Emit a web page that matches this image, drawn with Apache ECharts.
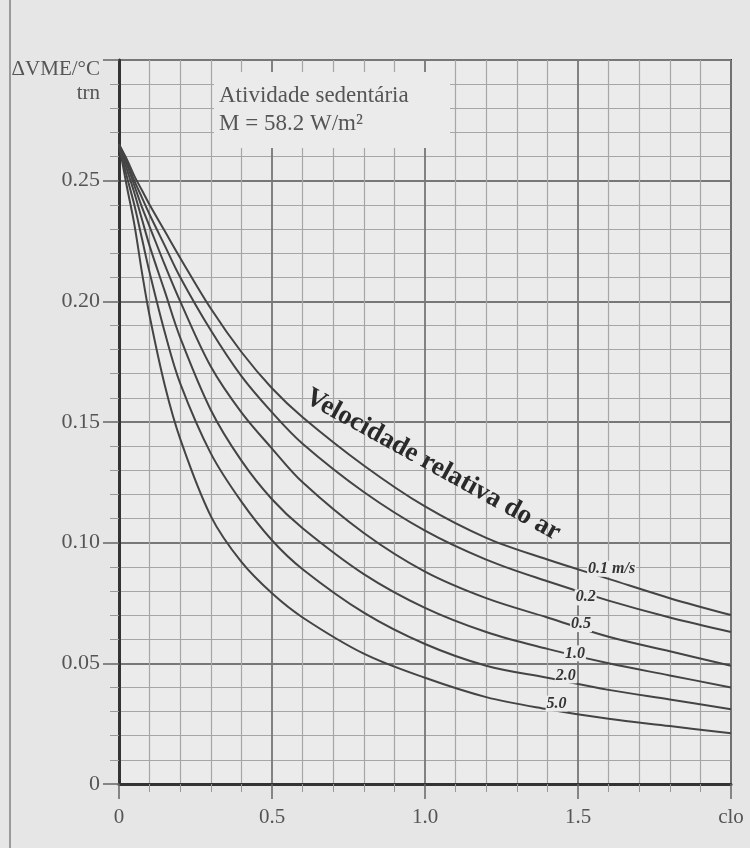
<!DOCTYPE html>
<html>
<head>
<meta charset="utf-8">
<script src="https://cdn.jsdelivr.net/npm/echarts@6/dist/echarts.min.js"></script>
<style>
html,body{margin:0;padding:0;background:#e6e6e6;}
#chart{width:750px;height:848px;}
</style>
</head>
<body>
<div id="chart"></div>
<script>
// ---- data ----
const xValues = [0, 0.025, 0.05, 0.075, 0.1, 0.15, 0.2, 0.3, 0.4, 0.5, 0.6, 0.8, 1.0, 1.2, 1.4, 1.6, 1.8, 2.0];
const v01 = [0.265, 0.259, 0.252, 0.246, 0.240, 0.229, 0.218, 0.197, 0.179, 0.164, 0.152, 0.132, 0.115, 0.102, 0.093, 0.085, 0.077, 0.070];
const v02 = [0.265, 0.258, 0.250, 0.243, 0.236, 0.223, 0.210, 0.188, 0.169, 0.154, 0.141, 0.121, 0.105, 0.093, 0.084, 0.076, 0.069, 0.063];
const v05 = [0.265, 0.257, 0.248, 0.239, 0.231, 0.215, 0.200, 0.173, 0.154, 0.139, 0.125, 0.104, 0.088, 0.077, 0.069, 0.061, 0.055, 0.049];
const v10 = [0.265, 0.255, 0.245, 0.234, 0.223, 0.204, 0.185, 0.155, 0.134, 0.118, 0.106, 0.087, 0.073, 0.063, 0.056, 0.050, 0.045, 0.040];
const v20 = [0.265, 0.252, 0.240, 0.226, 0.212, 0.187, 0.166, 0.137, 0.117, 0.101, 0.089, 0.071, 0.058, 0.049, 0.044, 0.039, 0.035, 0.031];
const v50 = [0.265, 0.248, 0.232, 0.212, 0.194, 0.165, 0.143, 0.111, 0.092, 0.079, 0.069, 0.054, 0.044, 0.036, 0.031, 0.027, 0.024, 0.021];
const curveNames = ['0.1 m/s', '0.2', '0.5', '1.0', '2.0', '5.0'];
const labelX = [1.61, 1.525, 1.51, 1.49, 1.46, 1.43];
const xTickLabels = {0: '0', 0.5: '0.5', 1: '1.0', 1.5: '1.5', 2: 'clo'};
const yTickLabels = {0: '0', 0.05: '0.05', 0.1: '0.10', 0.15: '0.15', 0.2: '0.20', 0.25: '0.25'};

// ---- style ----
const PAPER = '#e6e6e6';
const PLOT = '#ebebeb';
const SERIF = '"Liberation Serif", "DejaVu Serif", serif';
const labelDy = [-11, 4, -4, -2, -6, -7];

const curves = [v01, v02, v05, v10, v20, v50];

function interp(arr, x) {
  for (let i = 0; i < xValues.length - 1; i++) {
    if (x >= xValues[i] && x <= xValues[i + 1]) {
      const t = (x - xValues[i]) / (xValues[i + 1] - xValues[i]);
      return arr[i] + t * (arr[i + 1] - arr[i]);
    }
  }
  return arr[arr.length - 1];
}

const series = curves.map((arr, k) => ({
  type: 'line',
  name: curveNames[k],
  data: xValues.map((x, i) => [x, arr[i]]),
  smooth: 0.35,
  showSymbol: false,
  symbol: 'none',
  lineStyle: {color: '#444', width: 2},
  z: 3,
  markPoint: {
    silent: true,
    symbol: 'circle',
    symbolSize: 1,
    itemStyle: {color: 'rgba(0,0,0,0)'},
    label: {
      show: true,
      position: 'inside',
      formatter: curveNames[k],
      fontFamily: SERIF,
      fontStyle: 'italic',
      fontWeight: 'bold',
      fontSize: 16,
      color: '#333',
      backgroundColor: PLOT,
      padding: [0, 1],
      offset: [0, labelDy[k]]
    },
    data: [{coord: [labelX[k], interp(arr, labelX[k])]}]
  }
}));

const chart = echarts.init(document.getElementById('chart'), null, {renderer: 'canvas'});
chart.setOption({
  animation: false,
  backgroundColor: PAPER,
  grid: {left: 119, right: 19, top: 60, bottom: 64, show: true, backgroundColor: PLOT, borderColor: '#3a3a3a', borderWidth: 2},
  xAxis: {
    type: 'value', min: 0, max: 2, interval: 0.5,
    axisLine: {show: true, lineStyle: {color: '#333', width: 3}},
    axisTick: {show: true, length: 15, lineStyle: {color: '#666', width: 1.5}},
    minorTick: {show: true, splitNumber: 5, length: 8, lineStyle: {color: '#999', width: 1}},
    splitLine: {show: true, lineStyle: {color: '#777', width: 1.8}},
    minorSplitLine: {show: true, lineStyle: {color: '#a6a6a6', width: 1.2}},
    axisLabel: {fontFamily: SERIF, fontSize: 21, color: '#555', margin: 23,
      formatter: v => xTickLabels[Math.round(v * 100) / 100] ?? ''}
  },
  yAxis: {
    type: 'value', min: 0, max: 0.3, interval: 0.05,
    axisLine: {show: true, lineStyle: {color: '#333', width: 3}},
    axisTick: {show: true, length: 16, lineStyle: {color: '#666', width: 1.5}},
    minorTick: {show: true, splitNumber: 5, length: 9, lineStyle: {color: '#999', width: 1}},
    splitLine: {show: true, lineStyle: {color: '#777', width: 1.8}},
    minorSplitLine: {show: true, lineStyle: {color: '#a6a6a6', width: 1.2}},
    axisLabel: {fontFamily: SERIF, fontSize: 22, color: '#555', margin: 19,
      formatter: v => yTickLabels[Math.round(v * 100) / 100] ?? ''}
  },
  series: series,
  graphic: [
    {type: 'line', shape: {x1: 10, y1: 0, x2: 10, y2: 848}, style: {stroke: '#9a9a9a', lineWidth: 2}, z: 1},
    {type: 'rect', shape: {x: 214, y: 72, width: 236, height: 76}, style: {fill: PLOT}, z: 10},
    {type: 'text', x: 219, y: 96, style: {text: 'Atividade sedentária', font: '23px ' + SERIF, fill: '#555', textAlign: 'left', textVerticalAlign: 'middle'}, z: 11},
    {type: 'text', x: 219, y: 124, style: {text: 'M = 58.2 W/m²', font: '23px ' + SERIF, fill: '#555', textAlign: 'left', textVerticalAlign: 'middle'}, z: 11},
    {type: 'text', x: 100, y: 69, style: {text: 'ΔVME/°C', font: '21px ' + SERIF, fill: '#555', textAlign: 'right', textVerticalAlign: 'middle'}, z: 11},
    {type: 'text', x: 100, y: 93, style: {text: 'trn', font: '21px ' + SERIF, fill: '#555', textAlign: 'right', textVerticalAlign: 'middle'}, z: 11},
    {type: 'text', x: 433, y: 465, rotation: -0.505, style: {text: 'Velocidade relativa do ar', font: 'bold 27px ' + SERIF, fill: '#2a2a2a', textAlign: 'center', textVerticalAlign: 'middle'}, z: 11}
  ]
});
</script>
</body>
</html>
